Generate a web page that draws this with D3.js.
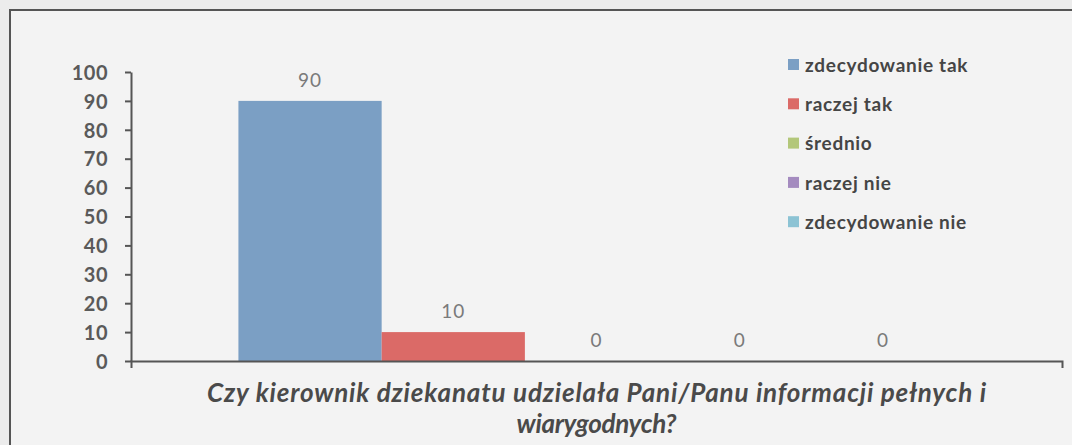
<!DOCTYPE html>
<html>
<head>
<meta charset="utf-8">
<script src="https://cdn.jsdelivr.net/npm/d3@7"></script>
<style>
  html, body { margin: 0; padding: 0; background: #ececec; }
  svg { display: block; }
</style>
</head>
<body>
<script>
// chart values
const SERIES = ['zdecydowanie tak', 'raczej tak', 'średnio', 'raczej nie', 'zdecydowanie nie'];
const VALUES = [90, 10, 0, 0, 0];
const COLORS = ['#7b9fc4', '#db6a67', '#b3c77a', '#a48bbf', '#8cc3d4'];
const Y_TICKS = [0, 10, 20, 30, 40, 50, 60, 70, 80, 90, 100];
const TITLE_LINES = ['Czy kierownik dziekanatu udzielała Pani/Panu informacji pełnych i', 'wiarygodnych?'];
const TITLE_WIDTHS = [779, 160]; // measured widths of the two title lines

const W = 1072, H = 445;
const plot = { left: 131, right: 1062, top: 72, bottom: 361 };

const svg = d3.select('body').append('svg')
  .attr('width', W)
  .attr('height', H);

// chart frame (runs off the right and bottom of the picture)
svg.append('rect')
  .attr('x', 10).attr('y', 10)
  .attr('width', W + 20).attr('height', H + 20)
  .attr('fill', '#f3f3f3')
  .attr('stroke', '#555')
  .attr('stroke-width', 2);

const x = d3.scaleBand()
  .domain(SERIES)
  .range([plot.left, plot.right])
  .paddingInner(0)
  .paddingOuter(0.75);

const y = d3.scaleLinear()
  .domain([0, 100])
  .range([plot.bottom, plot.top]);

// bars
svg.selectAll('rect.bar')
  .data(SERIES)
  .enter().append('rect')
    .attr('class', 'bar')
    .attr('x', d => x(d))
    .attr('width', x.bandwidth())
    .attr('y', (d, i) => y(VALUES[i]))
    .attr('height', (d, i) => y(0) - y(VALUES[i]))
    .attr('fill', (d, i) => COLORS[i]);

// value labels
svg.selectAll('text.val')
  .data(SERIES)
  .enter().append('text')
    .attr('class', 'val')
    .attr('x', d => x(d) + x.bandwidth() / 2)
    .attr('y', (d, i) => y(VALUES[i]) - 14)
    .attr('text-anchor', 'middle')
    .style('font-family', 'Lato, sans-serif')
    .style('font-size', '19px')
    .style('letter-spacing', '1px')
    .style('fill', '#7a7a7a')
    .text((d, i) => VALUES[i]);

// y axis
const yAxis = svg.append('g')
  .attr('transform', `translate(${plot.left},0)`)
  .call(d3.axisLeft(y).tickValues(Y_TICKS).tickSize(6).tickSizeOuter(0).tickPadding(17));
yAxis.select('.domain').attr('stroke', '#555').attr('stroke-width', 2);
yAxis.selectAll('.tick line').attr('stroke', '#555').attr('stroke-width', 2);
yAxis.selectAll('.tick text')
  .style('font-family', 'Lato, sans-serif')
  .style('font-weight', 'bold')
  .style('font-size', '20px')
  .style('letter-spacing', '0.5px')
  .style('fill', '#5a5a5a')
  .attr('dy', '0.36em');

// x axis (single category, ticks at both ends)
const xCat = d3.scaleBand().domain(['q']).range([plot.left, plot.right]);
const xAxis = svg.append('g')
  .attr('transform', `translate(0,${plot.bottom})`)
  .call(d3.axisBottom(xCat).tickSizeOuter(7).tickSizeInner(0).tickFormat(''));
xAxis.select('.domain').attr('stroke', '#555').attr('stroke-width', 2);
xAxis.selectAll('.tick').remove();

// axis title
const title = svg.append('text')
  .attr('x', (plot.left + plot.right) / 2)
  .attr('y', 402)
  .attr('text-anchor', 'middle')
  .style('font-family', 'Lato, sans-serif')
  .style('font-weight', 'bold')
  .style('font-style', 'italic')
  .style('font-size', '26px')
  .style('fill', '#4a4a4a');
title.selectAll('tspan')
  .data(TITLE_LINES)
  .enter().append('tspan')
    .attr('x', (plot.left + plot.right) / 2)
    .attr('dy', (d, i) => i === 0 ? 0 : 31)
    .attr('textLength', (d, i) => TITLE_WIDTHS[i])
    .attr('lengthAdjust', 'spacing')
    .text(d => d);

// legend
const legend = svg.append('g')
  .selectAll('g')
  .data(SERIES)
  .enter().append('g')
    .attr('transform', (d, i) => `translate(788,${65 + i * 39.3})`);
legend.append('rect')
  .attr('x', 0).attr('y', -6)
  .attr('width', 11).attr('height', 11)
  .attr('fill', (d, i) => COLORS[i]);
legend.append('text')
  .attr('x', 17)
  .attr('dy', '0.35em')
  .style('font-family', 'Lato, sans-serif')
  .style('font-weight', 'bold')
  .style('font-size', '19px')
  .style('letter-spacing', '0.7px')
  .style('fill', '#454545')
  .text(d => d);
</script>
</body>
</html>
